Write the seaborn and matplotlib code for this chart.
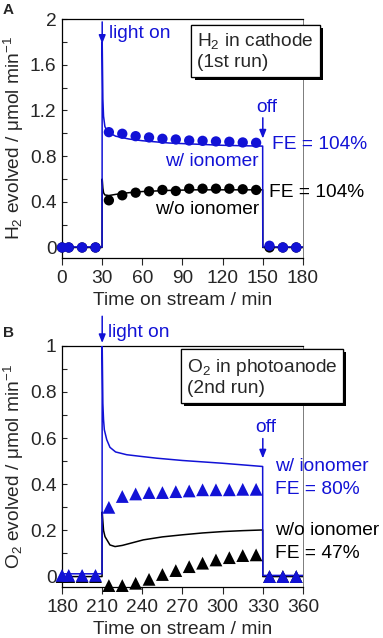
import pandas as pd
import matplotlib.pyplot as plt
import matplotlib.patheffects as pe
from matplotlib.ticker import MultipleLocator, FuncFormatter
import seaborn as sns

# Panel A: H2 in cathode (1st run)
a_line_t = [0, 29.9, 30, 30.5, 31, 32, 34, 36, 40, 50, 60, 80, 100, 120, 140, 149.9, 150, 180]
a_line_w = [0.005, 0.005, 1.8, 1.3, 1.15, 1.06, 1.01, 1.0, 0.975, 0.95, 0.935, 0.915, 0.905, 0.895, 0.89, 0.888, 0.005, 0.005]
a_line_wo_t = [0, 29.9, 30, 30.5, 31, 32, 35, 40, 50, 60, 80, 100, 120, 149.9, 150, 180]
a_line_wo = [0.0, 0.0, 0.6, 0.52, 0.48, 0.46, 0.455, 0.465, 0.48, 0.49, 0.5, 0.505, 0.505, 0.505, 0.0, 0.0]

a_pts_t = [0, 5, 15, 25, 35, 45, 55, 65, 75, 85, 95, 105, 115, 125, 135, 145, 155, 165, 175]
a_pts_w = [0, 0, 0, 0, 1.01, 0.996, 0.975, 0.964, 0.952, 0.946, 0.937, 0.934, 0.929, 0.926, 0.92, 0.917, 0.015, 0, 0]
a_pts_wo = [0, 0, 0, 0, 0.413, 0.457, 0.48, 0.492, 0.504, 0.495, 0.515, 0.515, 0.515, 0.515, 0.51, 0.504, 0, 0, 0]

# Panel B: O2 in photoanode (2nd run)
b_line_t = [180, 209.9, 210, 210.5, 211, 211.6, 213.4, 215.8, 220, 228.3, 240, 250.7, 270, 285, 300, 315, 329.9, 330, 360]
b_line_w = [0.012, 0.012, 1.0, 0.75, 0.68, 0.636, 0.593, 0.56, 0.54, 0.528, 0.52, 0.513, 0.503, 0.497, 0.491, 0.484, 0.477, 0.005, 0.005]
b_line_wo_t = [180, 209.9, 210, 211, 212.1, 215.8, 219.6, 225, 240.7, 255, 270, 285, 300, 315, 329.9, 330, 360]
b_line_wo = [0.0, 0.0, 0.28, 0.2, 0.173, 0.137, 0.13, 0.135, 0.159, 0.172, 0.181, 0.189, 0.195, 0.199, 0.202, 0.0, 0.0]

b_pts_t = [180, 185, 195, 205, 215, 225, 235, 245, 255, 265, 275, 285, 295, 305, 315, 325, 335, 345, 355]
b_pts_w = [0.005, 0.005, 0.005, 0.005, 0.30, 0.347, 0.358, 0.364, 0.364, 0.368, 0.371, 0.376, 0.376, 0.376, 0.378, 0.378, 0, 0, 0]
b_pts_wo = [0, 0, 0, 0, -0.039, -0.039, -0.029, -0.012, 0.009, 0.026, 0.043, 0.058, 0.072, 0.082, 0.091, 0.094, 0, 0, 0]

blue = '#1212d6'
black = '#000000'

sns.set_style('ticks')
plt.rcParams['font.family'] = ['Liberation Sans', 'DejaVu Sans']
plt.rcParams['mathtext.fontset'] = 'custom'
plt.rcParams['mathtext.rm'] = 'Liberation Sans'
plt.rcParams['mathtext.it'] = 'Liberation Sans'
fs = 13.8

fig = plt.figure(figsize=(3.83, 6.38), dpi=100)
axA = fig.add_axes([0.162, 0.596, 0.629, 0.374])
axB = fig.add_axes([0.162, 0.080, 0.629, 0.378])


def style_axes(ax, xlim, ylim, xmaj, ymaj, ymin, ylabel):
    ax.set_xlim(*xlim)
    ax.set_ylim(*ylim)
    ax.xaxis.set_major_locator(MultipleLocator(xmaj))
    ax.yaxis.set_major_locator(MultipleLocator(ymaj))
    ax.yaxis.set_minor_locator(MultipleLocator(ymin))
    fmt = FuncFormatter(lambda v, p: '%g' % round(v, 2))
    ax.yaxis.set_major_formatter(fmt)
    ax.tick_params(axis='y', which='both', direction='in', length=3.5, width=0.8, labelsize=fs, pad=4)
    ax.tick_params(axis='x', direction='out', length=5, width=0.8, labelsize=fs, pad=3.5)
    for s in ['left', 'bottom', 'top']:
        ax.spines[s].set_linewidth(0.9)
        ax.spines[s].set_color('k')
    ax.spines['right'].set_linewidth(0.6)
    ax.spines['right'].set_color('#666666')
    ax.set_xlabel('Time on stream / min', fontsize=fs, labelpad=4)
    ax.set_ylabel(ylabel, fontsize=fs, labelpad=3)


def shadow_box(ax, x, y, text):
    t = ax.text(x, y, text, fontsize=fs, va='center', ha='left', linespacing=1.2,
                bbox=dict(boxstyle='square,pad=0.3', fc='white', ec='k', lw=0.9), clip_on=False, zorder=6)
    t.get_bbox_patch().set_path_effects([pe.withSimplePatchShadow(offset=(2.5, -2.5), shadow_rgbFace='k', alpha=1), pe.Normal()])


# ---- Panel A ----
sns.lineplot(x=a_line_wo_t, y=a_line_wo, ax=axA, color=black, lw=1.1, estimator=None, sort=False, zorder=2)
sns.lineplot(x=a_line_t, y=a_line_w, ax=axA, color=blue, lw=1.1, estimator=None, sort=False, zorder=3)
sns.scatterplot(x=a_pts_t, y=a_pts_wo, ax=axA, color=black, marker='o', s=55, edgecolor='none', zorder=4, clip_on=False)
sns.scatterplot(x=a_pts_t, y=a_pts_w, ax=axA, color=blue, marker='o', s=55, edgecolor='none', zorder=5, clip_on=False)
style_axes(axA, (0, 180), (-0.09, 2), 30, 0.4, 0.2, 'H$_2$ evolved / μmol min$^{-1}$')

axA.annotate('', xy=(30, 1.76), xytext=(30, 2.0), arrowprops=dict(arrowstyle='-|>,head_length=0.5,head_width=0.2', color=blue, lw=1.1), annotation_clip=False)
axA.text(35, 1.87, 'light on', color=blue, fontsize=fs, va='center', ha='left')
axA.annotate('', xy=(150, 0.93), xytext=(150, 1.16), arrowprops=dict(arrowstyle='-|>,head_length=0.5,head_width=0.2', color=blue, lw=1.1), annotation_clip=False)
axA.text(153, 1.23, 'off', color=blue, fontsize=fs, va='center', ha='center')
axA.text(157, 0.9, 'FE = 104%', color=blue, fontsize=fs, va='center', ha='left', clip_on=False)
axA.text(147, 0.75, 'w/ ionomer', color=blue, fontsize=fs, va='center', ha='right')
axA.text(155, 0.48, 'FE = 104%', color=black, fontsize=fs, va='center', ha='left', clip_on=False)
axA.text(147, 0.33, 'w/o ionomer', color=black, fontsize=fs, va='center', ha='right')
shadow_box(axA, 101, 1.72, 'H$_2$ in cathode\n(1st run)')

# ---- Panel B ----
sns.lineplot(x=b_line_wo_t, y=b_line_wo, ax=axB, color=black, lw=1.1, estimator=None, sort=False, zorder=2)
sns.lineplot(x=b_line_t, y=b_line_w, ax=axB, color=blue, lw=1.1, estimator=None, sort=False, zorder=3)
sns.scatterplot(x=b_pts_t, y=b_pts_wo, ax=axB, color=black, marker='^', s=85, edgecolor='none', zorder=4, clip_on=False)
sns.scatterplot(x=b_pts_t, y=b_pts_w, ax=axB, color=blue, marker='^', s=85, edgecolor='none', zorder=5, clip_on=False)
style_axes(axB, (180, 360), (-0.045, 1), 30, 0.2, 0.1, 'O$_2$ evolved / μmol min$^{-1}$')

axB.annotate('', xy=(210, 1.0), xytext=(210, 1.14), arrowprops=dict(arrowstyle='-|>,head_length=0.5,head_width=0.2', color=blue, lw=1.1), annotation_clip=False)
axB.text(214, 1.056, 'light on', color=blue, fontsize=fs, va='center', ha='left', clip_on=False)
axB.annotate('', xy=(330, 0.5), xytext=(330, 0.61), arrowprops=dict(arrowstyle='-|>,head_length=0.5,head_width=0.2', color=blue, lw=1.1), annotation_clip=False)
axB.text(332, 0.645, 'off', color=blue, fontsize=fs, va='center', ha='center')
axB.text(339, 0.475, 'w/ ionomer', color=blue, fontsize=fs, va='center', ha='left', clip_on=False)
axB.text(339, 0.376, 'FE = 80%', color=blue, fontsize=fs, va='center', ha='left', clip_on=False)
axB.text(339, 0.198, 'w/o ionomer', color=black, fontsize=fs, va='center', ha='left', clip_on=False)
axB.text(339, 0.10, 'FE = 47%', color=black, fontsize=fs, va='center', ha='left', clip_on=False)
shadow_box(axB, 273, 0.865, 'O$_2$ in photoanode\n(2nd run)')

fig.text(0.008, 0.984, 'A', fontsize=11, fontweight='bold', va='center', ha='left')
fig.text(0.008, 0.478, 'B', fontsize=11, fontweight='bold', va='center', ha='left')

fig.savefig('out.png', dpi=100)
